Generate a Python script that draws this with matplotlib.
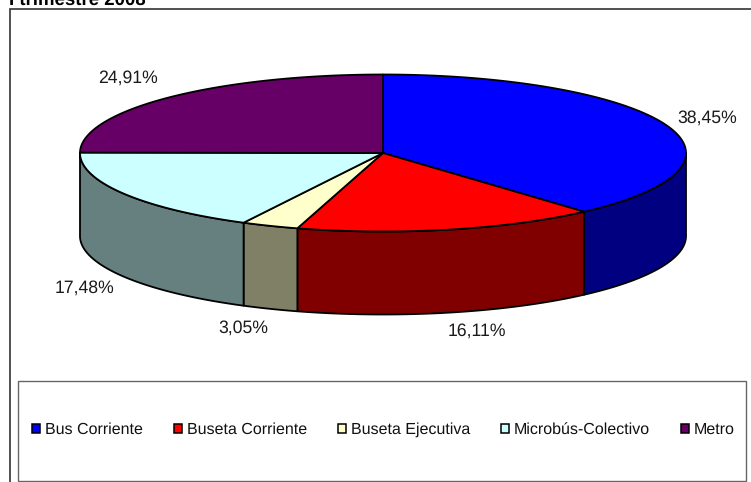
import numpy as np
import matplotlib
matplotlib.use("Agg")
import matplotlib.pyplot as plt
from matplotlib.patches import Polygon, Rectangle, Patch

title = "I trimestre 2008"
categories = ["Bus Corriente", "Buseta Corriente", "Buseta Ejecutiva", "Microbús-Colectivo", "Metro"]
values = [38.45, 16.11, 3.05, 17.48, 24.91]
labels = ["38,45%", "16,11%", "3,05%", "17,48%", "24,91%"]
top_colors = ["#0000FF", "#FF0000", "#FFFFCC", "#CCFFFF", "#660066"]
side_colors = ["#000080", "#800000", "#808066", "#668080", "#330033"]

plt.rcParams['font.family'] = ['Liberation Sans', 'DejaVu Sans']
plt.rcParams['text.hinting'] = 'no_hinting'
W, H = 751, 482
fig = plt.figure(figsize=(W/100, H/100), dpi=100, facecolor="white")
ax = fig.add_axes([0, 0, 1, 1])
ax.set_xlim(0, W); ax.set_ylim(H, 0); ax.axis("off")

cx, cy, rx, ry, depth = 383, 153, 303, 78.5, 83

def pt(theta):
    return cx + rx*np.sin(theta), cy - ry*np.cos(theta)

def arc(a, b):
    t = np.linspace(a, b, max(int(abs(b-a)*120), 2))
    return np.column_stack(pt(t))

# chart frame
ax.add_patch(Rectangle((9.5, 9), W, H, fc="white", ec="#333333", lw=1.2, zorder=0))

bounds = np.concatenate([[0], np.cumsum(values)]) / sum(values) * 2*np.pi

# side walls of the front half
for i in range(len(values)):
    a, b = max(bounds[i], np.pi/2), min(bounds[i+1], 3*np.pi/2)
    if b <= a:
        continue
    top = arc(a, b)
    bot = top[::-1] + [0, depth]
    ax.add_patch(Polygon(np.vstack([top, bot]), closed=True, fc=side_colors[i], ec="black", lw=1.3, zorder=2, joinstyle="round"))

# top faces
for i in range(len(values)):
    poly = np.vstack([[cx, cy], arc(bounds[i], bounds[i+1])])
    ax.add_patch(Polygon(poly, closed=True, fc=top_colors[i], ec="black", lw=1.3, zorder=3, joinstyle="round"))

# data labels
label_xy = [(707, 118), (477, 331), (243, 328), (85, 288), (128, 78)]
for s, (x, y) in zip(labels, label_xy):
    ax.text(x, y, s, ha="center", va="center", fontsize=12.7, color="#1a1a1a", zorder=5)

# legend box and entries
ax.add_patch(Rectangle((18, 380.5), 728, 100.5, fc="white", ec="#666666", lw=1.0, zorder=4))
handles = [Patch(fc=c, ec="black", lw=1.1) for c in top_colors]
leg = ax.legend(handles, categories, ncol=5, loc="center", bbox_to_anchor=(383.5/W, 1-430/H),
                frameon=False, fontsize=11.5, handlelength=0.5, handleheight=0.55,
                handletextpad=0.3, columnspacing=1.95, borderpad=0, borderaxespad=0,
                labelcolor="#111111")
leg.set_zorder(6)

ax.text(9, 4.5, title, ha="left", va="baseline", fontsize=13.4, fontweight="bold", color="black", zorder=7)

fig.savefig("out.png", dpi=100, facecolor="white")
